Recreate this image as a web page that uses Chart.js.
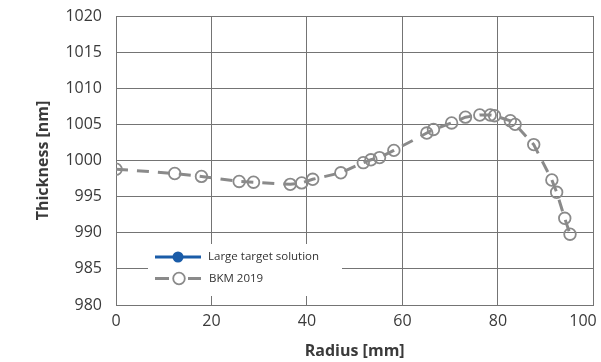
<!DOCTYPE html>
<html>
<head>
<meta charset="utf-8">
<script src="https://cdn.jsdelivr.net/npm/chart.js@4/dist/chart.umd.min.js"></script>
<style>
  html, body { margin: 0; padding: 0; background: #fff; }
  #wrap { width: 601px; height: 362px; }
</style>
</head>
<body>
<div id="wrap"><canvas id="thicknessChart" width="601" height="362"></canvas></div>
<script>
// radius [mm] and thickness [nm]
const bkmRadius = [0, 12.3, 17.9, 25.8, 28.8, 36.5, 38.9, 41.2, 47.1, 51.8, 53.4, 55.2, 58.2,
  65.1, 66.5, 70.3, 73.2, 76.2, 78.4, 79.3, 82.6, 83.6, 87.5, 91.3, 92.3, 94.0, 95.1];
const bkmThickness = [998.8, 998.2, 997.8, 997.1, 997.0, 996.7, 996.9, 997.4, 998.3, 999.7, 1000.1, 1000.4, 1001.4,
  1003.8, 1004.3, 1005.2, 1006.0, 1006.3, 1006.3, 1006.2, 1005.5, 1005.0, 1002.2, 997.3, 995.6, 992.0, 989.8];
const largeTargetPoints = [];   // shown only in the legend of the reference

const seriesLabels = ['Large target solution', 'BKM 2019'];
const xTicks = [0, 20, 40, 60, 80, 100];
const yTicks = [980, 985, 990, 995, 1000, 1005, 1010, 1015, 1020];

const FONT = '"Open Sans", "Noto Sans", sans-serif';
const GRID = '#747474';
const BLUE = '#1a5ca8';
const GREY = '#8a8a8a';

const bkmPoints = bkmRadius.map((r, i) => ({ x: r, y: bkmThickness[i] }));

// legend box drawn inside the plot, lower left
const insideLegend = {
  id: 'insideLegend',
  afterDraw(chart) {
    const ctx = chart.ctx;
    ctx.save();
    ctx.fillStyle = '#fff';
    ctx.fillRect(148, 244, 194, 52);

    // row 1: solid blue line with filled dot
    ctx.strokeStyle = BLUE;
    ctx.lineWidth = 3;
    ctx.beginPath();
    ctx.moveTo(155, 257);
    ctx.lineTo(201, 257);
    ctx.stroke();
    ctx.fillStyle = BLUE;
    ctx.beginPath();
    ctx.arc(178, 257, 5.5, 0, Math.PI * 2);
    ctx.fill();

    // row 2: dashed grey line with open circle
    ctx.strokeStyle = GREY;
    ctx.lineWidth = 3;
    ctx.beginPath();
    ctx.moveTo(155, 278.5);
    ctx.lineTo(169, 278.5);
    ctx.moveTo(188, 278.5);
    ctx.lineTo(201, 278.5);
    ctx.stroke();
    ctx.fillStyle = '#fff';
    ctx.lineWidth = 1.8;
    ctx.beginPath();
    ctx.arc(179, 278.5, 5.8, 0, Math.PI * 2);
    ctx.fill();
    ctx.stroke();

    ctx.fillStyle = '#333';
    ctx.font = '11.5px ' + FONT;
    ctx.textBaseline = 'middle';
    ctx.fillText(seriesLabels[0], 208, 257);
    ctx.fillText(seriesLabels[1], 209, 278.5);
    ctx.restore();
  }
};

new Chart(document.getElementById('thicknessChart'), {
  type: 'scatter',
  data: {
    datasets: [
      {
        label: seriesLabels[0],
        data: largeTargetPoints,
        showLine: true,
        borderColor: BLUE,
        backgroundColor: BLUE,
        borderWidth: 3,
        pointRadius: 5.5
      },
      {
        label: seriesLabels[1],
        data: bkmPoints,
        showLine: true,
        borderColor: GREY,
        backgroundColor: 'rgba(255,255,255,0)',
        borderWidth: 3,
        borderDash: [12, 9],
        pointRadius: 5.8,
        pointBorderWidth: 1.8,
        pointBorderColor: GREY,
        tension: 0
      }
    ]
  },
  options: {
    responsive: false,
    animation: false,
    layout: { padding: { left: 0, right: 4, top: 16, bottom: 0 } },
    plugins: {
      legend: { display: false },
      tooltip: { enabled: false }
    },
    scales: {
      x: {
        type: 'linear',
        min: 0,
        max: 100,
        afterBuildTicks(scale) { scale.ticks = xTicks.map(v => ({ value: v })); },
        afterFit(scale) { scale.height = 57; scale.paddingRight = 0; scale.paddingLeft = 0; },
        grid: { color: GRID, lineWidth: 1, drawTicks: false },
        border: { color: GRID, width: 1 },
        ticks: {
          padding: 7,
          color: '#3a3a3a',
          font: { family: FONT, size: 16 },
          maxRotation: 0,
          callback: v => v === 100 ? '100     ' : String(v)
        },
        title: {
          display: true,
          text: 'Radius [mm]',
          color: '#3a3a3a',
          font: { family: FONT, size: 16, weight: 'bold' },
          padding: { top: 0, bottom: 1 }
        }
      },
      y: {
        min: 980,
        max: 1020,
        afterBuildTicks(scale) { scale.ticks = yTicks.map(v => ({ value: v })); },
        afterFit(scale) { scale.width = 116; scale.paddingTop = 0; scale.paddingBottom = 0; },
        grid: { color: GRID, lineWidth: 1, drawTicks: false },
        border: { color: GRID, width: 1 },
        ticks: {
          padding: 14,
          color: '#3a3a3a',
          font: { family: FONT, size: 16 },
          callback: v => String(v)
        },
        title: {
          display: true,
          text: 'Thickness [nm]',
          color: '#3a3a3a',
          font: { family: FONT, size: 16, weight: 'bold' },
          padding: { top: 34, bottom: 0 }
        }
      }
    }
  },
  plugins: [insideLegend]
});
</script>
</body>
</html>
